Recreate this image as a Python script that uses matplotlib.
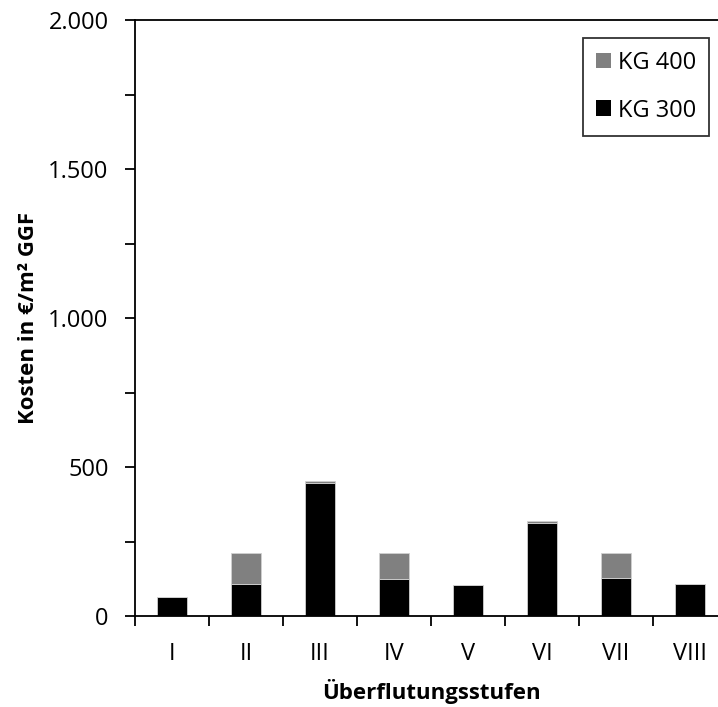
import numpy as np
import matplotlib.pyplot as plt
from matplotlib.patches import Patch
from matplotlib.ticker import MultipleLocator, FixedLocator, FuncFormatter

# Daten
stufen = ["I", "II", "III", "IV", "V", "VI", "VII", "VIII"]
kg300 = [63, 107, 446, 124, 103, 312, 128, 109]
kg400 = [0, 104, 8, 87, 0, 7, 82, 0]

plt.rcParams['font.family'] = ['Open Sans', 'DejaVu Sans']

fig = plt.figure(figsize=(7.18, 7.07), dpi=100)
# Achse reicht rechts ueber den Bildrand hinaus (wie im Original)
ax = fig.add_axes([135 / 718, 1 - 616 / 707, 592 / 718, 596 / 707])

x = np.arange(len(stufen))
ax.bar(x, kg300, width=0.4, color="black", edgecolor="#d0d0d0", linewidth=0.6)
ax.bar(x, kg400, width=0.4, bottom=kg300, color="#808080", edgecolor="#d0d0d0", linewidth=0.6)

ax.set_xlim(-0.5, len(stufen) - 0.5)
ax.set_ylim(0, 2000)

for s in ax.spines.values():
    s.set_linewidth(1.3)

ax.set_xticks(x)
ax.set_xticklabels(stufen, fontsize=17)
ax.xaxis.set_minor_locator(FixedLocator(np.arange(-0.5, len(stufen), 1.0)))
ax.tick_params(axis="x", which="major", length=0, pad=19)
ax.tick_params(axis="x", which="minor", length=7, width=1.3, direction="out")

ax.yaxis.set_major_locator(MultipleLocator(500))
ax.yaxis.set_minor_locator(MultipleLocator(250))
ax.yaxis.set_major_formatter(FuncFormatter(lambda v, p: f"{int(v):,}".replace(",", ".")))
ax.tick_params(axis="y", which="both", length=7, width=1.3, direction="out", labelsize=17, pad=12)

ax.set_ylabel("Kosten in €/m² GGF", fontsize=16, fontweight="bold", labelpad=7)
ax.set_xlabel("Überflutungsstufen", fontsize=16, fontweight="bold", labelpad=9)

handles = [Patch(facecolor="#808080", label="KG 400"),
           Patch(facecolor="black", label="KG 300")]
leg = ax.legend(handles=handles, loc="upper left",
                bbox_to_anchor=(448 / 592, 1 - 18 / 596),
                fontsize=17, frameon=True, fancybox=False, edgecolor="black",
                handlelength=0.64, handleheight=0.64, handletextpad=0.3,
                labelspacing=1.0, borderpad=0.55, borderaxespad=0)
leg.get_frame().set_linewidth(1.3)

plt.savefig("out.png", dpi=100)
plt.close()
